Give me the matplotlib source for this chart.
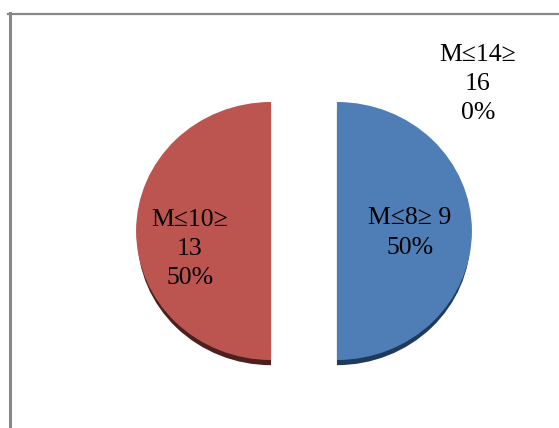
import matplotlib
matplotlib.use("Agg")
import matplotlib.pyplot as plt
from matplotlib.lines import Line2D

plt.rcParams['font.family'] = ['Liberation Serif', 'DejaVu Serif']

# slices, clockwise from the top
groups = ["M≤8≥ 9", "M≤10≥\n13", "M≤14≥\n16"]
shares = [50, 50, 0]
colors = ["#4f7db5", "#bc5450", "#9bbb59"]
shadows = ["#1f3a5c", "#4e1f1c", "#55672f"]
explode = [0.244, 0.244, 0.244]

W, H = 559, 428
f = plt.figure(figsize=(W/100, H/100), dpi=100, facecolor="white")

# pie is a bit wider than tall, so the axes box is not square
rx, ry = 135, 129
cx, cy = 304, 231
ax = f.add_axes([(cx - 1.5*rx)/W, 1 - (cy + 1.5*ry)/H, 3*rx/W, 3*ry/H])

# dark rim underneath gives the 3d look
ax.pie(shares, colors=shadows, explode=explode, startangle=90, counterclock=False,
       center=(0, -0.05), radius=0.99, wedgeprops={"linewidth": 0})
ax.pie(shares, colors=colors, explode=explode, startangle=90, counterclock=False,
       wedgeprops={"linewidth": 0})
ax.set_aspect("auto")
ax.set_xlim(-1.5, 1.5)
ax.set_ylim(-1.5, 1.5)

# data labels
label_pos = [(410, 233), (190, 249), (478, 84)]
for g, s, (x, y) in zip(groups, shares, label_pos):
    f.text(x/W, 1 - y/H, g + "\n" + str(s) + "%", ha="center", va="center",
           multialignment="center", fontsize=18.5, linespacing=1.42, color="black")

# chart frame, only top and left are inside the crop
f.add_artist(Line2D([9.5/W, 9.5/W], [0, 1 - 13/H], color="#888888", lw=2.2))
f.add_artist(Line2D([8/W, 1], [1 - 13.5/H, 1 - 13.5/H], color="#888888", lw=1.6))

f.savefig("out.png", dpi=100)
